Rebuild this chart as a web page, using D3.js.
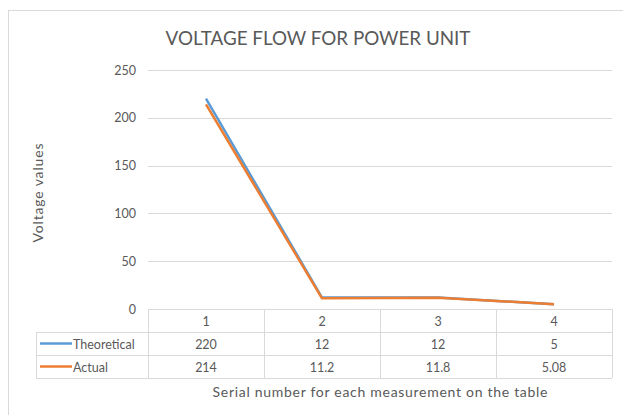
<!DOCTYPE html>
<html>
<head>
<meta charset="utf-8">
<script src="https://cdn.jsdelivr.net/npm/d3@7"></script>
<style>
  body { margin: 0; background: #fff; }
  svg { display: block; }
</style>
</head>
<body>
<div id="chart"></div>
<script>
// Chart data
const categories = ["1", "2", "3", "4"];
const theoretical = [220, 12, 12, 5];
const actual = [214, 11.2, 11.8, 5.08];
const theoreticalLabels = ["220", "12", "12", "5"];
const actualLabels = ["214", "11.2", "11.8", "5.08"];
const yTicks = [0, 50, 100, 150, 200, 250];

const colors = {
  theoretical: "#5B9BD5",
  actual: "#ED7D31",
  grid: "#d9d9d9",
  text: "#595959",
};

const font = "Lato, 'Open Sans', sans-serif";

const width = 623,
  height = 415;

const svg = d3
  .select("#chart")
  .append("svg")
  .attr("width", width)
  .attr("height", height);

// Chart area frame (right and bottom run off the picture)
svg
  .append("rect")
  .attr("x", 8.5)
  .attr("y", 10.5)
  .attr("width", 700)
  .attr("height", 500)
  .attr("fill", "#fff")
  .attr("stroke", colors.grid);

// Title
svg
  .append("text")
  .attr("x", 318)
  .attr("y", 45)
  .attr("text-anchor", "middle")
  .attr("font-family", font)
  .attr("font-size", 18.8)
  .attr("fill", colors.text)
  .text("VOLTAGE FLOW FOR POWER UNIT");

// Plot area
const plotLeft = 148,
  plotRight = 612,
  plotTop = 70,
  plotBottom = 309;

const x = d3
  .scaleBand()
  .domain(categories)
  .range([plotLeft, plotRight]);

const y = d3.scaleLinear().domain([0, 250]).range([plotBottom, plotTop]);

// Gridlines
svg
  .append("g")
  .selectAll("line")
  .data(yTicks.filter((d) => d > 0))
  .join("line")
  .attr("x1", plotLeft)
  .attr("x2", plotRight)
  .attr("y1", (d) => Math.round(y(d)) + 0.5)
  .attr("y2", (d) => Math.round(y(d)) + 0.5)
  .attr("stroke", colors.grid);

// Y axis labels
const yAxis = svg
  .append("g")
  .attr("transform", `translate(${plotLeft - 6},0)`)
  .call(d3.axisLeft(y).tickValues(yTicks).tickSize(0).tickPadding(6));
yAxis.select(".domain").remove();
yAxis
  .selectAll("text")
  .attr("font-family", font)
  .attr("font-size", 12.5)
  .attr("fill", colors.text);

// Y axis title
svg
  .append("text")
  .attr("transform", "translate(43,193) rotate(-90)")
  .attr("text-anchor", "middle")
  .attr("font-family", font)
  .attr("font-size", 14)
  .attr("fill", colors.text)
  .attr("textLength", 99)
  .text("Voltage values");

// Lines
const line = d3
  .line()
  .x((d, i) => x(categories[i]) + x.bandwidth() / 2)
  .y((d) => y(d));

svg
  .append("path")
  .datum(theoretical)
  .attr("fill", "none")
  .attr("stroke", colors.theoretical)
  .attr("stroke-width", 2.5)
  .attr("stroke-linejoin", "round")
  .attr("d", line);

svg
  .append("path")
  .datum(actual)
  .attr("fill", "none")
  .attr("stroke", colors.actual)
  .attr("stroke-width", 2.5)
  .attr("stroke-linejoin", "round")
  .attr("d", line);

// Data table
const rowTop = [309, 332, 355, 378];
const legendLeft = 36;
const table = svg.append("g").attr("stroke", colors.grid).attr("fill", "none");

// horizontal lines
table
  .append("line")
  .attr("x1", plotLeft).attr("x2", plotRight)
  .attr("y1", rowTop[0] + 0.5).attr("y2", rowTop[0] + 0.5);
rowTop.slice(1).forEach((yy) => {
  table
    .append("line")
    .attr("x1", legendLeft).attr("x2", plotRight)
    .attr("y1", yy + 0.5).attr("y2", yy + 0.5);
});
// vertical lines
table
  .append("line")
  .attr("x1", legendLeft + 0.5).attr("x2", legendLeft + 0.5)
  .attr("y1", rowTop[1]).attr("y2", rowTop[3]);
categories.forEach((c) => {
  table
    .append("line")
    .attr("x1", Math.round(x(c)) + 0.5).attr("x2", Math.round(x(c)) + 0.5)
    .attr("y1", rowTop[0]).attr("y2", rowTop[3]);
});
table
  .append("line")
  .attr("x1", plotRight + 0.5).attr("x2", plotRight + 0.5)
  .attr("y1", rowTop[0]).attr("y2", rowTop[3]);

// table texts
const rows = [categories, theoreticalLabels, actualLabels];
rows.forEach((vals, r) => {
  svg
    .append("g")
    .selectAll("text")
    .data(vals)
    .join("text")
    .attr("x", (d, i) => x(categories[i]) + x.bandwidth() / 2)
    .attr("y", (rowTop[r] + rowTop[r + 1]) / 2 + 5)
    .attr("text-anchor", "middle")
    .attr("font-family", font)
    .attr("font-size", 12.5)
    .attr("fill", colors.text)
    .text((d) => d);
});

// legend keys in table
const series = [
  { name: "Theoretical", color: colors.theoretical },
  { name: "Actual", color: colors.actual },
];
series.forEach((s, i) => {
  const cy = (rowTop[i + 1] + rowTop[i + 2]) / 2;
  svg
    .append("line")
    .attr("x1", 40).attr("x2", 72)
    .attr("y1", cy).attr("y2", cy)
    .attr("stroke", s.color)
    .attr("stroke-width", 2.5);
  svg
    .append("text")
    .attr("x", 73)
    .attr("y", cy + 5)
    .attr("font-family", font)
    .attr("font-size", 12.5)
    .attr("fill", colors.text)
    .text(s.name);
});

// X axis title
svg
  .append("text")
  .attr("x", 380)
  .attr("y", 397)
  .attr("text-anchor", "middle")
  .attr("font-family", font)
  .attr("font-size", 14)
  .attr("fill", colors.text)
  .attr("textLength", 335)
  .text("Serial number  for each measurement on the table");
</script>
</body>
</html>
